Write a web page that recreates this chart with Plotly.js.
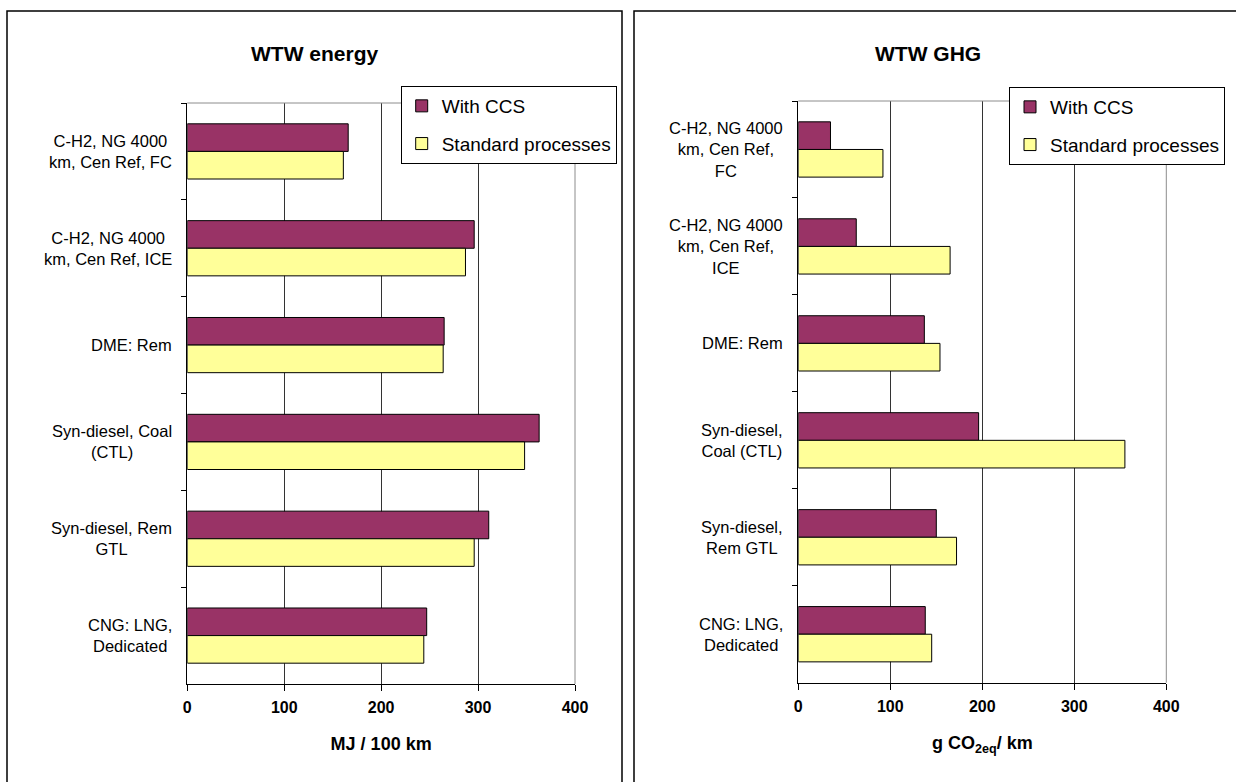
<!DOCTYPE html>
<html><head><meta charset="utf-8">
<script src="https://cdn.plot.ly/plotly-3.0.1.min.js"></script>
<style>html,body{margin:0;padding:0;background:#fff}</style>
</head><body><div id="chart" style="width:1236px;height:782px"></div>
<script>
const categories = ["C-H2, NG 4000 km, Cen Ref, FC", "C-H2, NG 4000 km, Cen Ref, ICE", "DME: Rem", "Syn-diesel, Coal (CTL)", "Syn-diesel, Rem GTL", "CNG: LNG, Dedicated"];
const energyLabels = ["C-H2, NG 4000<br>km, Cen Ref, FC", "C-H2, NG 4000<br>km, Cen Ref, ICE", "DME: Rem", "Syn-diesel, Coal<br>(CTL)", "Syn-diesel, Rem<br>GTL", "CNG: LNG,<br>Dedicated"];
const ghgLabels = ["C-H2, NG 4000<br>km, Cen Ref,<br>FC", "C-H2, NG 4000<br>km, Cen Ref,<br>ICE", "DME: Rem", "Syn-diesel,<br>Coal (CTL)", "Syn-diesel,<br>Rem GTL", "CNG: LNG,<br>Dedicated"];
const seriesNames = ["With CCS", "Standard processes"];
const energyCCS = [166, 296, 265, 363, 311, 247];
const energyStd = [161, 287, 264, 348, 296, 244];
const ghgCCS = [35, 63, 137, 196, 150, 138];
const ghgStd = [92, 165, 154, 355, 172, 145];
const xTicks = [0, 100, 200, 300, 400];
const titles = ["WTW energy", "WTW GHG"];
const axisTitles = ["MJ / 100 km", "g CO<sub>2eq</sub>/ km"];

const W = 1236, H = 782;
const FONT = "Liberation Sans, Arial, sans-serif";
const colCCS = "#993366", colStd = "#FFFF99";

function bar(xv, name, color, xa, ya, leg, grp) {
  return {type: "bar", orientation: "h", y: categories, x: xv, name: name,
    marker: {color: color, line: {color: "#000", width: 1}},
    xaxis: xa, yaxis: ya, legend: leg, legendgroup: grp, hoverinfo: "skip"};
}
const data = [
  bar(energyCCS, seriesNames[0], colCCS, "x", "y", "legend", "a"),
  bar(energyStd, seriesNames[1], colStd, "x", "y", "legend", "b"),
  bar(ghgCCS, seriesNames[0], colCCS, "x2", "y2", "legend2", "c"),
  bar(ghgStd, seriesNames[1], colStd, "x2", "y2", "legend2", "d")
];

function xax(d0, d1, title) {
  return {domain: [d0 / W, d1 / W], range: [0, 400], tickvals: xTicks, ticktext: xTicks.map(String),
    showgrid: true, gridcolor: "#333", gridwidth: 1, zeroline: false,
    showline: true, linecolor: "#000", linewidth: 1, ticks: "outside", ticklen: 6, tickcolor: "#000",
    ticklabelstandoff: 3,
    tickfont: {family: FONT, size: 16, color: "#000", weight: "bold"},
    title: {text: title, font: {family: FONT, size: 18, color: "#000", weight: "bold"}, standoff: 22},
    fixedrange: true};
}
function yax(top, bottom, anchor) {
  return {domain: [1 - bottom / H, 1 - top / H], type: "category", categoryorder: "array",
    categoryarray: categories, autorange: "reversed", showticklabels: false,
    ticks: "outside", ticklen: 5, tickcolor: "#000", tickson: "boundaries",
    showline: true, linecolor: "#000", linewidth: 1, showgrid: false, zeroline: false,
    anchor: anchor, fixedrange: true};
}
function legend(x, y) {
  return {x: x / W, y: 1 - y / H, xanchor: "left", yanchor: "top", bgcolor: "#fff",
    bordercolor: "#000", borderwidth: 1, font: {family: FONT, size: 19, color: "#000"},
    traceorder: "grouped", tracegroupgap: 10};
}

const annotations = [];
categories.forEach((c, i) => {
  annotations.push({xref: "paper", yref: "y", x: 174 / W, y: c, text: energyLabels[i], showarrow: false,
    xanchor: "right", yanchor: "middle", align: "center", font: {family: FONT, size: 16.5, color: "#000"}});
  annotations.push({xref: "paper", yref: "y2", x: 785 / W, y: c, text: ghgLabels[i], showarrow: false,
    xanchor: "right", yanchor: "middle", align: "center", font: {family: FONT, size: 16.5, color: "#000"}});
});
annotations.push({xref: "paper", yref: "paper", x: 314 / W, y: 1 - 54 / H, text: titles[0], showarrow: false,
  xanchor: "center", yanchor: "middle", font: {family: FONT, size: 21, color: "#000", weight: "bold"}});
annotations.push({xref: "paper", yref: "paper", x: 928 / W, y: 1 - 54 / H, text: titles[1], showarrow: false,
  xanchor: "center", yanchor: "middle", font: {family: FONT, size: 21, color: "#000", weight: "bold"}});

const frameLines = [];
[["x", "y"], ["x2", "y2"]].forEach(([xa, ya]) => {
  frameLines.push({type: "line", xref: xa + " domain", yref: ya + " domain", x0: 0, x1: 1, y0: 1, y1: 1,
    line: {color: "#8c8c8c", width: 1}, layer: "above"});
  frameLines.push({type: "line", xref: xa + " domain", yref: ya + " domain", x0: 1, x1: 1, y0: 0, y1: 1,
    line: {color: "#8c8c8c", width: 1}, layer: "above"});
});
const panels = [
  {type: "rect", xref: "paper", yref: "paper", x0: 7 / W, x1: 622 / W, y0: -0.1, y1: 1 - 11 / H,
    line: {color: "#000", width: 1.5}, layer: "below"},
  {type: "rect", xref: "paper", yref: "paper", x0: 634 / W, x1: 1.1, y0: -0.1, y1: 1 - 11 / H,
    line: {color: "#000", width: 1.5}, layer: "below"}
];

const layout = {
  width: W, height: H, margin: {l: 0, r: 0, t: 0, b: 0},
  paper_bgcolor: "#fff", plot_bgcolor: "rgba(0,0,0,0)",
  font: {family: FONT, color: "#000"},
  barmode: "group", bargap: 0.43, bargroupgap: 0,
  xaxis: xax(187.3, 575, axisTitles[0]),
  yaxis: yax(103, 684, "x"),
  xaxis2: xax(798.3, 1166.3, axisTitles[1]),
  yaxis2: yax(101, 682.7, "x2"),
  legend: legend(400.7, 86),
  legend2: legend(1009, 87),
  annotations: annotations,
  shapes: panels.concat(frameLines),
  showlegend: true
};
layout.xaxis.anchor = "y";
layout.xaxis2.anchor = "y2";

Plotly.newPlot("chart", data, layout, {displayModeBar: false, staticPlot: true});
</script></body></html>
